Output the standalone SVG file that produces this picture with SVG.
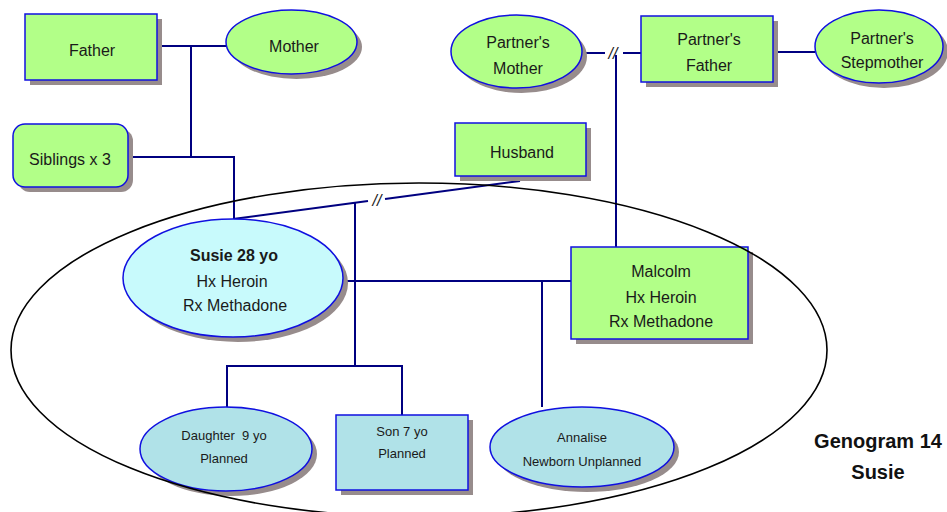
<svg xmlns="http://www.w3.org/2000/svg" width="947" height="512" viewBox="0 0 947 512">
  <defs>
    <style>
      .link { fill: none; stroke: #000080; stroke-width: 2; }
      .shadow { fill: #978c8c; }
      .adult { fill: #b2ff88; stroke: #1010e0; stroke-width: 1.5; }
      .child { fill: #b0e2e8; stroke: #1010e0; stroke-width: 1.5; }
      .client { fill: #c8fafc; stroke: #1010e0; stroke-width: 1.5; }
      .lbl { font-family: "Liberation Sans", Arial, sans-serif; font-size: 16px; fill: #1a1a1a; text-anchor: middle; }
      .small { font-size: 13px; }
      .bold { font-weight: bold; }
      .cut { font-family: "Liberation Sans", Arial, sans-serif; font-size: 16px; font-style: italic; fill: #1a1a1a; text-anchor: middle; }
      .title { font-family: "Liberation Sans", Arial, sans-serif; font-size: 20px; font-weight: bold; fill: #111; text-anchor: middle; }
    </style>
  </defs>

  <!-- relationship lines -->
  <g id="connectors">
    <path class="link" d="M157 46 H226"/>
    <path class="link" d="M191 46 V157"/>
    <path class="link" d="M128 157 H234 V219"/>
    <path class="link" d="M582 53 H605"/>
    <path class="link" d="M623 53 H641"/>
    <path class="link" d="M616 55 V247"/>
    <path class="link" d="M773 52 H815"/>
    <path class="link" d="M520 181 L385 198.9"/>
    <path class="link" d="M368 201.1 L233 219"/>
    <path class="link" d="M355 203 V366"/>
    <path class="link" d="M227 407 V366 H402 V415"/>
    <path class="link" d="M343 281 H571"/>
    <path class="link" d="M542 281 V407"/>
    <text class="cut" x="613" y="59">//</text>
    <text class="cut" x="377" y="206">//</text>
  </g>

  <g id="father">
    <rect class="shadow" x="30" y="19" width="132" height="66"/>
    <rect class="adult" x="25" y="14" width="132" height="66"/>
    <text class="lbl" x="92" y="56">Father</text>
  </g>

  <g id="mother">
    <ellipse class="shadow" cx="296.5" cy="47" rx="65.5" ry="32"/>
    <ellipse class="adult" cx="291.5" cy="42" rx="65.5" ry="32"/>
    <text class="lbl" x="294" y="52">Mother</text>
  </g>

  <g id="siblings">
    <rect class="shadow" x="18" y="129" width="115" height="63" rx="12"/>
    <rect class="adult" x="13" y="124" width="115" height="63" rx="12"/>
    <text class="lbl" x="70" y="165">Siblings x 3</text>
  </g>

  <g id="partners-mother">
    <ellipse class="shadow" cx="521.5" cy="56.5" rx="65.5" ry="36.5"/>
    <ellipse class="adult" cx="516.5" cy="51.5" rx="65.5" ry="36.5"/>
    <text class="lbl" x="518" y="48">Partner's</text>
    <text class="lbl" x="518" y="74">Mother</text>
  </g>

  <g id="partners-father">
    <rect class="shadow" x="646" y="21" width="132" height="66"/>
    <rect class="adult" x="641" y="16" width="132" height="66"/>
    <text class="lbl" x="709" y="45">Partner's</text>
    <text class="lbl" x="709" y="71">Father</text>
  </g>

  <g id="partners-stepmother">
    <ellipse class="shadow" cx="884" cy="51.5" rx="64" ry="36.5"/>
    <ellipse class="adult" cx="879" cy="46.5" rx="64" ry="36.5"/>
    <text class="lbl" x="882" y="44">Partner's</text>
    <text class="lbl" x="882" y="68">Stepmother</text>
  </g>

  <g id="husband">
    <rect class="shadow" x="460" y="128" width="131" height="53"/>
    <rect class="adult" x="455" y="123" width="131" height="53"/>
    <text class="lbl" x="522" y="158">Husband</text>
  </g>

  <g id="susie">
    <ellipse class="shadow" cx="238" cy="283" rx="110" ry="59"/>
    <ellipse class="client" cx="233" cy="278" rx="110" ry="59"/>
    <text class="lbl bold" x="234" y="261">Susie 28 yo</text>
    <text class="lbl" x="232" y="287">Hx Heroin</text>
    <text class="lbl" x="235" y="311">Rx Methadone</text>
  </g>

  <g id="malcolm">
    <rect class="shadow" x="576" y="252" width="177" height="92"/>
    <rect class="adult" x="571" y="247" width="177" height="92"/>
    <text class="lbl" x="661" y="277">Malcolm</text>
    <text class="lbl" x="661" y="303">Hx Heroin</text>
    <text class="lbl" x="661" y="327">Rx Methadone</text>
  </g>

  <g id="daughter">
    <ellipse class="shadow" cx="231" cy="454" rx="86" ry="42"/>
    <ellipse class="child" cx="226" cy="449" rx="86" ry="42"/>
    <text class="lbl small" x="224" y="440" xml:space="preserve">Daughter  9 yo</text>
    <text class="lbl small" x="224" y="463">Planned</text>
  </g>

  <g id="son">
    <rect class="shadow" x="341" y="420" width="132" height="75"/>
    <rect class="child" x="336" y="415" width="132" height="75"/>
    <text class="lbl small" x="402" y="436">Son 7 yo</text>
    <text class="lbl small" x="402" y="458">Planned</text>
  </g>

  <g id="annalise">
    <ellipse class="shadow" cx="587" cy="452" rx="92" ry="40"/>
    <ellipse class="child" cx="582" cy="447" rx="92" ry="40"/>
    <text class="lbl small" x="582" y="442">Annalise</text>
    <text class="lbl small" x="582" y="466">Newborn Unplanned</text>
  </g>

  <!-- household boundary -->
  <ellipse id="household" cx="419" cy="350" rx="408" ry="167" fill="none" stroke="#000" stroke-width="1.6"/>

  <g id="caption">
    <text class="title" x="878" y="448">Genogram 14</text>
    <text class="title" x="878" y="479">Susie</text>
  </g>
</svg>
